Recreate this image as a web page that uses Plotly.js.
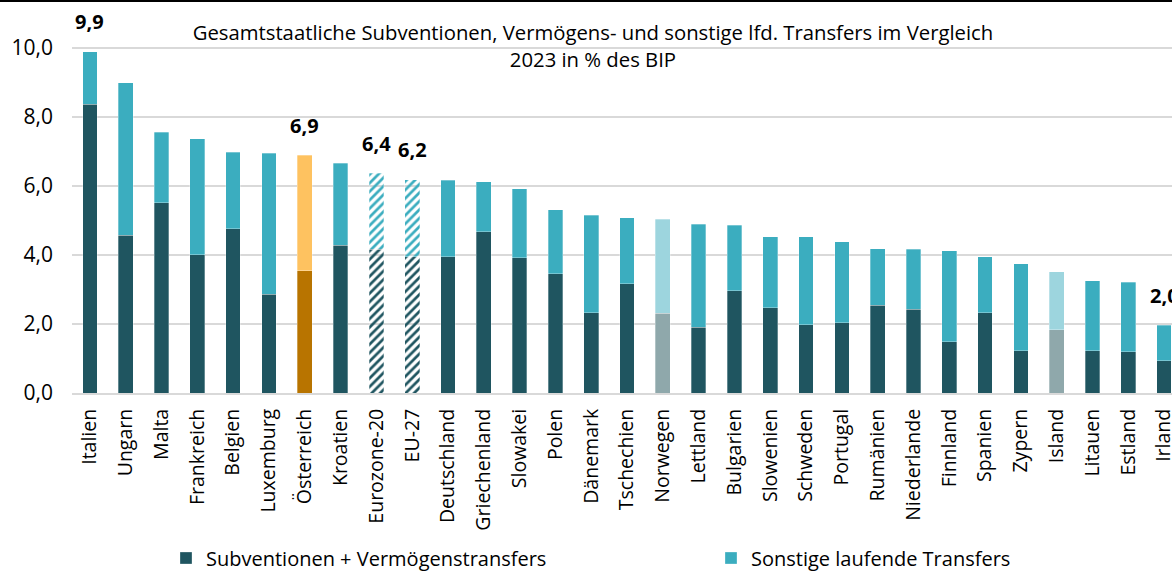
<!DOCTYPE html>
<html>
<head>
<meta charset="utf-8">
<script src="https://cdn.plot.ly/plotly-3.0.1.min.js"></script>
<style>
  html, body { margin: 0; padding: 0; background: #fff; }
  #chart { width: 1172px; height: 573px; }
  #topline { position: absolute; left: 0; top: 0; width: 1172px; height: 2px; background: #000; }
</style>
</head>
<body>
<div id="chart"></div>
<div id="topline"></div>
<script>
// ---- Data (Prozent des BIP, 2023) ----
const categories = ['Italien','Ungarn','Malta','Frankreich','Belgien','Luxemburg','Österreich','Kroatien','Eurozone-20','EU-27','Deutschland','Griechenland','Slowakei','Polen','Dänemark','Tschechien','Norwegen','Lettland','Bulgarien','Slowenien','Schweden','Portugal','Rumänien','Niederlande','Finnland','Spanien','Zypern','Island','Litauen','Estland','Irland'];
const subventionen = [8.37, 4.58, 5.51, 4.01, 4.76, 2.86, 3.54, 4.29, 4.17, 3.95, 3.95, 4.68, 3.92, 3.46, 2.32, 3.17, 2.31, 1.91, 2.97, 2.47, 1.98, 2.04, 2.55, 2.43, 1.49, 2.33, 1.23, 1.83, 1.23, 1.19, 0.94];
const sonstige = [1.53, 4.42, 2.05, 3.36, 2.22, 4.09, 3.36, 2.37, 2.20, 2.24, 2.22, 1.44, 2.00, 1.85, 2.84, 1.91, 2.73, 2.99, 1.90, 2.06, 2.55, 2.35, 1.64, 1.74, 2.63, 1.62, 2.52, 1.68, 2.02, 2.02, 1.03];
const labelCats = ['Italien','Österreich','Eurozone-20','EU-27','Irland'];
const labelTexts = ['9,9','6,9','6,4','6,2','2,0'];
const seriesNames = ['Subventionen + Vermögenstransfers','Sonstige laufende Transfers'];
const titleText = 'Gesamtstaatliche Subventionen, Vermögens- und sonstige lfd. Transfers im Vergleich<br>2023 in % des BIP';
const yTicks = [0, 2, 4, 6, 8, 10];

// ---- Styles ----
const DARK = '#1f5560', LIGHT = '#3badbf';
const AT_DARK = '#b87400', AT_LIGHT = '#fec260';
const NO_DARK = '#8fa8ab', NO_LIGHT = '#9dd5de';
const highlight = {'Österreich': [AT_DARK, AT_LIGHT], 'Norwegen': [NO_DARK, NO_LIGHT], 'Island': [NO_DARK, NO_LIGHT]};
const hatched = ['Eurozone-20', 'EU-27'];

function colorsFor(idx) {
  return categories.map(c => highlight[c] ? highlight[c][idx] : (idx === 0 ? DARK : LIGHT));
}
function patternFor(idx) {
  return {
    shape: categories.map(c => hatched.includes(c) ? '/' : ''),
    bgcolor: categories.map(c => idx === 0 ? DARK : LIGHT),
    fgcolor: categories.map(c => idx === 0 ? '#d3e6e9' : '#e6f4f6'),
    size: 6,
    solidity: 0.45,
    fillmode: 'replace'
  };
}

const FONT = '"Open Sans", "DejaVu Sans", sans-serif';

const traces = [
  {
    type: 'bar', x: categories, y: subventionen, name: seriesNames[0], legend: 'legend',
    marker: { color: colorsFor(0), pattern: patternFor(0), line: { color: 'rgba(255,255,255,0.5)', width: 0.6 } },
    width: 0.41, hoverinfo: 'x+y'
  },
  {
    type: 'bar', x: categories, y: sonstige, name: seriesNames[1], legend: 'legend2',
    marker: { color: colorsFor(1), pattern: patternFor(1), line: { color: 'rgba(255,255,255,0.5)', width: 0.6 } },
    width: 0.41, hoverinfo: 'x+y'
  }
];

const annotations = labelCats.map((c, i) => {
  const k = categories.indexOf(c);
  return {
    x: c, y: subventionen[k] + sonstige[k], xref: 'x', yref: 'y',
    text: labelTexts[i], showarrow: false, yanchor: 'middle', yshift: 30,
    font: { family: FONT, size: 20, color: '#000', weight: 'bold' }
  };
});

const legendBase = {
  orientation: 'h',
  xref: 'container', yref: 'container',
  y: 1 - 558 / 573, xanchor: 'left', yanchor: 'middle',
  bgcolor: 'rgba(0,0,0,0)',
  font: { family: FONT, size: 20, color: '#000' }
};

const layout = {
  width: 1172, height: 573,
  margin: { l: 72, r: 0, t: 14, b: 180 },
  paper_bgcolor: '#fff', plot_bgcolor: '#fff',
  barmode: 'stack',
  separators: ',.',
  showlegend: true,
  font: { family: FONT, color: '#000' },
  title: {
    text: titleText,
    font: { family: FONT, size: 20.3, color: '#000' },
    xref: 'paper', x: 0.4736, xanchor: 'center',
    yref: 'container', y: 0.93, yanchor: 'top'
  },
  xaxis: {
    type: 'category',
    range: [-0.5, 30.22],
    tickangle: -90,
    tickfont: { family: FONT, size: 19.5, color: '#000' },
    showgrid: false,
    showline: true, linecolor: '#d9d9d9', linewidth: 2,
    ticks: '', ticklabelstandoff: 6,
    fixedrange: true
  },
  yaxis: {
    range: [0, 10.99],
    tickvals: yTicks,
    tickformat: '.1f',
    tickfont: { family: FONT, size: 21, color: '#000' },
    showgrid: true, gridcolor: '#d9d9d9', gridwidth: 2,
    zeroline: false, showline: false, ticks: '', ticklabelstandoff: 18,
    fixedrange: true
  },
  legend: Object.assign({}, legendBase, { x: 166 / 1172 }),
  legend2: Object.assign({}, legendBase, { x: 711 / 1172 }),
  annotations: annotations
};

Plotly.newPlot('chart', traces, layout, { displayModeBar: false, staticPlot: true });
</script>
</body>
</html>
